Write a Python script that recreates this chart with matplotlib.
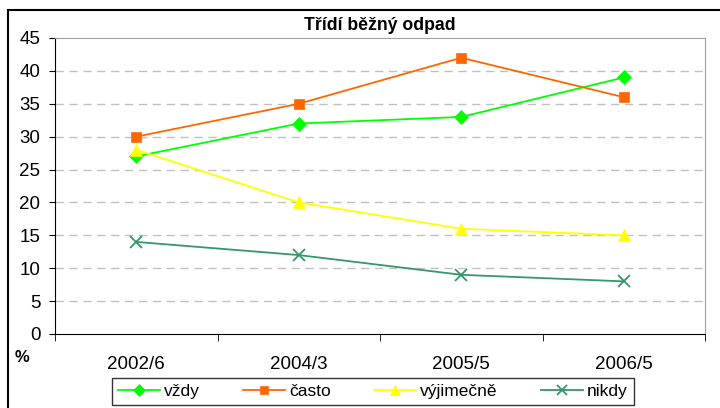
import matplotlib.pyplot as plt
import matplotlib.patches as patches
import numpy as np

plt.rcParams['font.family'] = ['Liberation Sans', 'DejaVu Sans']

categories = ["2002/6", "2004/3", "2005/5", "2006/5"]
vzdy = [27, 32, 33, 39]
casto = [30, 35, 42, 36]
vyjimecne = [28, 20, 16, 15]
nikdy = [14, 12, 9, 8]

series = [
    ("vždy", vzdy, "#00FF00", "D", 7),
    ("často", casto, "#FF6600", "s", 7),
    ("výjimečně", vyjimecne, "#FFFF00", "^", 8),
    ("nikdy", nikdy, "#339966", "x", 8),
]

fig = plt.figure(figsize=(7.2, 4.08), dpi=100)
ax = fig.add_axes([55 / 720, 1 - 334 / 408, 650 / 720, 296 / 408])

x = np.arange(len(categories))
for label, vals, color, marker, ms in series:
    ax.plot(x, vals, color=color, marker=marker, markersize=ms, linewidth=1.3,
            markeredgewidth=1.3 if marker == "x" else 0.5, label=label)

ax.set_xlim(-0.5, 3.5)
ax.set_ylim(0, 45)
ax.set_yticks(np.arange(0, 46, 5))
ax.set_xticks(x)
ax.set_xticklabels(categories)
ax.set_xticks(np.arange(-0.5, 3.6, 1), minor=True)
ax.tick_params(axis='x', which='major', length=0, pad=16, labelsize=13.5)
ax.tick_params(axis='x', which='minor', length=5, direction='out')
ax.tick_params(axis='y', length=4.5, direction='out', labelsize=13.5, pad=6)

for v in range(5, 45, 5):
    ax.axhline(v, color="#C0C0C0", linestyle=(0, (6, 4)), linewidth=1, zorder=0)

ax.spines['top'].set_color("#A0A0A0")
ax.spines['right'].set_color("#A0A0A0")
ax.spines['left'].set_color("black")
ax.spines['bottom'].set_color("black")

ax.set_title("Třídí běžný odpad", fontsize=12.7, fontweight='bold', pad=6)
fig.text(22 / 720, 1 - 358 / 408, "%", fontsize=12, fontweight='bold', ha='center', va='center')

fig.patches.append(patches.Rectangle((8 / 720, -0.1), 1.1, 1.1 + (408 - 10) / 408 - 1,
                                     transform=fig.transFigure, fill=False,
                                     edgecolor="black", linewidth=1.5))

leg = fig.legend(loc='upper center', bbox_to_anchor=(0.518, 1 - 378 / 408), ncol=4,
                 fontsize=12.5, frameon=True, fancybox=False, edgecolor="black",
                 handlelength=2.4, columnspacing=2.5, handletextpad=0.25,
                 borderpad=0.35, borderaxespad=0, markerscale=0.85)
leg.get_frame().set_linewidth(1)

fig.savefig("out.png", dpi=100)
